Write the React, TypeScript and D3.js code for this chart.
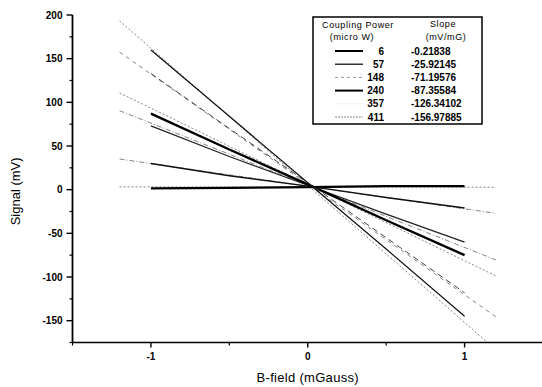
import React from 'react';
import * as d3 from 'd3';

// coupling power (micro W) and fitted slope (mV/mG) from the legend
const powers = ['6', '57', '148', '240', '357', '411'];
const slopes = ['-0.21838', '-25.92145', '-71.19576', '-87.35584', '-126.34102', '-156.97885'];
// intercepts of the fit lines (mV)
const intercepts = [3, 4, 5, 6, 6, 5];
// measured traces, sampled at these B-field values
const traceX = [-1, -0.5, 0, 0.5, 1];
const trace6 = [1.5, 2, 3, 4, 4];
const trace57 = [30, 16, 4, -9, -21];
const trace148 = [73, 38, 5, -28, -60];
const trace240 = [87, 46, 6, -35, -75];
const trace357 = [133, 70, 8, -55, -118];
const trace411 = [160, 84, 8, -68, -145];
const traces = [trace6, trace57, trace148, trace240, trace357, trace411];
const fitRange = [-1.2, 1.2];

const xTicks = [-1, 0, 1];
const xMinor = [-1.5, -0.5, 0.5, 1.5];
const yTicks = [200, 150, 100, 50, 0, -50, -100, -150];
const yMinor = [175, 125, 75, 25, -25, -75, -125, -175];

const traceStyle = [
  { w: 2.2, dash: '', color: '#000' },
  { w: 1.4, dash: '', color: '#111' },
  { w: 1.2, dash: '', color: '#222' },
  { w: 2.4, dash: '', color: '#000' },
  { w: 1, dash: '6,4', color: '#444' },
  { w: 1.2, dash: '', color: '#111' },
];
const fitDash = ['2,2', '5,2,1,2', '5,2,1,2', '2,2', '4,4', '2,2'];
const legendSample = [
  { w: 2, dash: '', color: '#000' },
  { w: 1.2, dash: '', color: '#000' },
  { w: 1, dash: '3,3', color: '#999' },
  { w: 2, dash: '', color: '#000' },
  { w: 1, dash: '', color: '#f2f2f2' },
  { w: 1, dash: '2,1', color: '#888' },
];

const W = 542;
const H = 387;
const font = '"Liberation Sans", Arial, sans-serif';

export default function App() {
  const x = d3.scaleLinear().domain([-1.5, 1.5]).range([72.5, 543]);
  const y = d3.scaleLinear().domain([-175, 200]).range([342.5, 15]);
  const line = d3.line<[number, number]>().x(d => x(d[0])).y(d => y(d[1]));

  const x0 = x.range()[0];
  const yb = y.range()[0];

  return (
    <svg width={W} height={H} style={{ position: 'absolute', left: 0, top: 0, background: '#fff' }} fontFamily={font}>
      <defs>
        <clipPath id="plot">
          <rect x={x0} y={y(200) - 10} width={W - x0} height={yb - y(200) + 10} />
        </clipPath>
      </defs>

      <g clipPath="url(#plot)">
        {/* fit lines */}
        {slopes.map((s, i) => {
          const b = +s;
          const a = intercepts[i];
          const pts: [number, number][] = fitRange.map(v => [v, a + b * v]);
          return (
            <path key={'f' + i} d={line(pts) || ''} fill="none" stroke="#777" strokeWidth={0.9} strokeDasharray={fitDash[i]} />
          );
        })}
        {/* measured traces */}
        {traces.map((t, i) => {
          const pts: [number, number][] = t.map((v, j) => [traceX[j], v]);
          const st = traceStyle[i];
          return (
            <path key={'t' + i} d={line(pts) || ''} fill="none" stroke={st.color} strokeWidth={st.w}
              strokeDasharray={st.dash} strokeLinejoin="round" />
          );
        })}
      </g>

      {/* axes */}
      <line x1={x0} x2={x0} y1={y(200)} y2={yb} stroke="#000" strokeWidth={1.8} />
      <line x1={x0} x2={W} y1={yb} y2={yb} stroke="#000" strokeWidth={1.6} />
      {yTicks.map(v => (
        <g key={'y' + v}>
          <line x1={x0 - 6} x2={x0} y1={y(v)} y2={y(v)} stroke="#000" strokeWidth={1.4} />
          <text x={x0 - 10} y={y(v)} dy="0.35em" textAnchor="end" fontSize={10} fontWeight="bold">{v}</text>
        </g>
      ))}
      {yMinor.map(v => (
        <line key={'ym' + v} x1={x0 - 3} x2={x0} y1={y(v)} y2={y(v)} stroke="#000" strokeWidth={1.2} />
      ))}
      {xTicks.map(v => (
        <g key={'x' + v}>
          <line x1={x(v)} x2={x(v)} y1={yb} y2={yb + 5} stroke="#000" strokeWidth={1.4} />
          <text x={x(v)} y={yb + 17} textAnchor="middle" fontSize={10} fontWeight="bold">{v}</text>
        </g>
      ))}
      {xMinor.map(v => (
        <line key={'xm' + v} x1={x(v)} x2={x(v)} y1={yb} y2={yb + 3} stroke="#000" strokeWidth={1.2} />
      ))}

      <text x={x(0)} y={382} textAnchor="middle" fontSize={13} letterSpacing={0.3}>B-field (mGauss)</text>
      <text transform={`translate(20,${y(-2)}) rotate(-90)`} textAnchor="middle" fontSize={13}>Signal (mV)</text>

      {/* legend */}
      <rect x={313} y={17} width={169} height={107} fill="#fff" stroke="#000" strokeWidth={1.5} />
      <text x={358} y={28} textAnchor="middle" fontSize={9} letterSpacing={0.6}>Coupling Power</text>
      <text x={352} y={40} textAnchor="middle" fontSize={9} letterSpacing={0.6}>(micro W)</text>
      <text x={443} y={27} textAnchor="middle" fontSize={9} letterSpacing={0.6}>Slope</text>
      <text x={446} y={40} textAnchor="middle" fontSize={9} letterSpacing={0.6}>(mV/mG)</text>
      {powers.map((p, i) => {
        const ry = 51 + i * 13.2;
        const st = legendSample[i];
        return (
          <g key={'l' + p}>
            <line x1={335} x2={363} y1={ry} y2={ry} stroke={st.color} strokeWidth={st.w} strokeDasharray={st.dash} />
            <text x={384} y={ry} dy="0.35em" textAnchor="end" fontSize={10} fontWeight="bold">{p}</text>
            <text x={411} y={ry} dy="0.35em" fontSize={10} fontWeight="bold">{slopes[i]}</text>
          </g>
        );
      })}
    </svg>
  );
}
